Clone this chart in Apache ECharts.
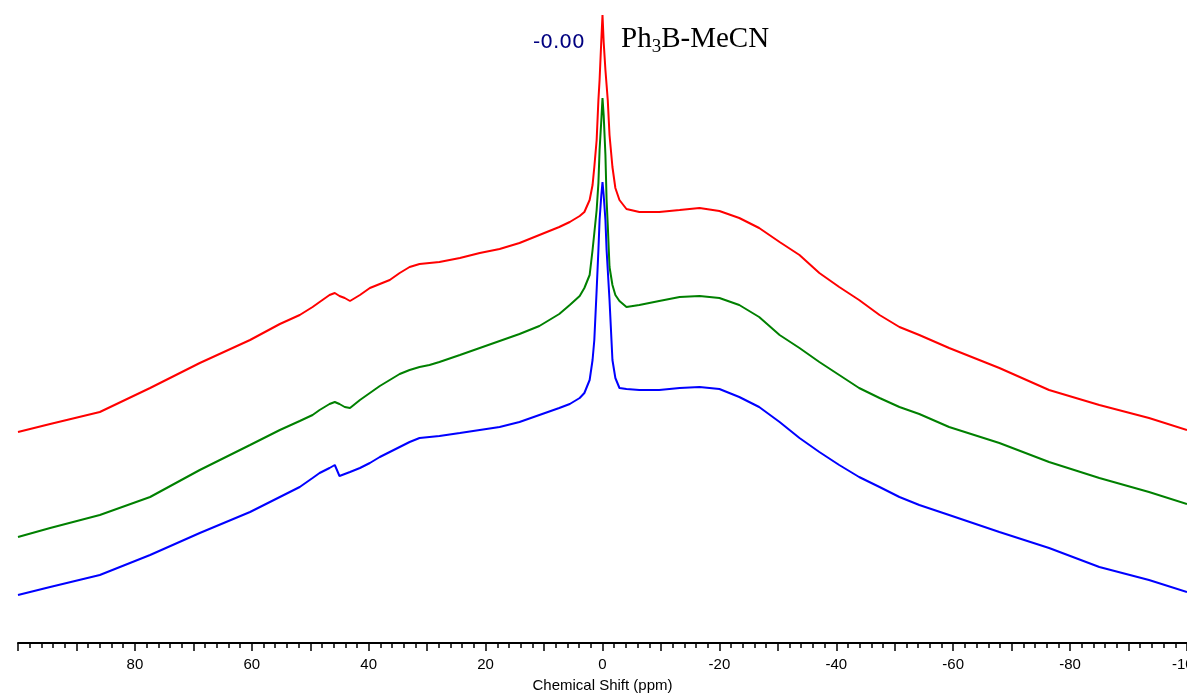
<!DOCTYPE html>
<html>
<head>
<meta charset="utf-8">
<script src="https://cdn.jsdelivr.net/npm/echarts@6/dist/echarts.min.js"></script>
<style>
  html, body { margin: 0; padding: 0; background: #fff; overflow: hidden; }
  #chart { width: 1187px; height: 695px; }
</style>
</head>
<body>
<div id="chart"></div>
<script>
// Chemical shift grid (ppm)
const ppm = [100, 94.5, 86, 77.4, 68.9, 60.3, 55.2, 51.8, 49.6, 48.4, 46.7, 45.8, 45.0, 44.1, 43.2, 41.5, 39.8, 38.1, 36.4, 34.7, 33.0, 31.3, 29.6, 27.9, 24.4, 21.0, 17.6, 14.2, 10.8, 7.4, 5.6, 3.9, 3.1, 2.2, 1.7, 1.4, 1.0, 0.7, 0.5, 0.2, 0, -0.2, -0.5, -0.7, -0.9, -1.2, -1.7, -2.2, -2.9, -4.1, -6.3, -9.7, -13.2, -16.6, -20, -23.4, -26.8, -30.3, -33.7, -37.1, -40.5, -43.9, -47.4, -50.8, -54.2, -59.3, -67.9, -76.4, -85, -93.5, -100];

// Intensities (arbitrary units, stacked offsets as drawn)
const redSpec = [211, 219, 231, 255, 280, 303, 319, 328, 336, 341, 348, 350, 347, 345, 342, 348, 355, 359, 363, 370, 376, 379, 380, 381, 385, 390, 394, 400, 408, 416, 421, 427, 431, 443, 458, 476, 503, 543, 563, 603, 628, 601, 573, 558, 543, 508, 476, 455, 443, 434, 431, 431, 433, 435, 432, 425, 415, 401, 388, 370, 356, 343, 328, 316, 308, 295, 275, 253, 238, 225, 213];

const greenSpec = [106, 115, 128, 146, 173, 198, 213, 222, 228, 233, 239, 241, 239, 236, 235, 243, 250, 257, 263, 269, 273, 276, 278, 281, 288, 295, 302, 309, 317, 329, 338, 347, 355, 368, 393, 410, 433, 460, 493, 523, 545, 528, 488, 443, 418, 376, 358, 348, 342, 336, 338, 342, 346, 347, 345, 338, 326, 308, 295, 281, 268, 255, 245, 236, 229, 216, 200, 181, 165, 151, 139];

const blueSpec = [48, 56, 68, 88, 110, 131, 146, 156, 165, 170, 175, 178, 167, 169, 171, 175, 180, 186, 191, 196, 201, 205, 206, 207, 210, 213, 216, 221, 228, 235, 239, 245, 250, 263, 283, 303, 353, 393, 423, 448, 461, 448, 423, 393, 373, 343, 283, 265, 255, 254, 253, 253, 255, 256, 254, 246, 236, 221, 205, 191, 178, 166, 156, 146, 138, 128, 111, 95, 76, 63, 51];

const peakLabel = '-0.00';
const compoundRich = '{a|Ph}{s|3}{a|B-MeCN}';

const chart = echarts.init(document.getElementById('chart'), null, { renderer: 'canvas' });

function mk(name, vals, color) {
  return {
    name: name,
    type: 'line',
    data: ppm.map((p, i) => [p, vals[i]]),
    showSymbol: false,
    symbol: 'none',
    smooth: false,
    lineStyle: { color: color, width: 2 },
    itemStyle: { color: color },
    animation: false,
    z: 3
  };
}

chart.setOption({
  backgroundColor: '#fff',
  animation: false,
  grid: { left: 18, right: 0, top: 13, bottom: 52, containLabel: false, outerBoundsMode: 'none' },
  xAxis: {
    type: 'value',
    inverse: true,
    min: -100,
    max: 100,
    interval: 10,
    axisLine: { show: true, lineStyle: { color: '#000', width: 2 } },
    axisTick: { show: true, length: 8, lineStyle: { color: '#000', width: 1.5 } },
    minorTick: { show: true, splitNumber: 5, length: 5, lineStyle: { color: '#000', width: 1.5 } },
    splitLine: { show: false },
    minorSplitLine: { show: false },
    axisLabel: {
      formatter: function (v) { return (v % 20 === 0 && v !== 100) ? String(v) : ''; },
      color: '#000', fontSize: 15, fontFamily: 'Liberation Sans, Arial, sans-serif', margin: 14
    },
    name: 'Chemical Shift (ppm)',
    nameLocation: 'middle',
    nameGap: 35,
    nameTextStyle: { color: '#000', fontSize: 15, fontFamily: 'Liberation Sans, Arial, sans-serif' }
  },
  yAxis: {
    type: 'value',
    min: 0,
    max: 630,
    show: false
  },
  series: [
    mk('Red', redSpec, '#ff0000'),
    mk('Green', greenSpec, '#008000'),
    mk('Blue', blueSpec, '#0000ff')
  ],
  graphic: [
    {
      type: 'text',
      left: 533,
      top: 33,
      style: {
        text: peakLabel,
        fill: '#000080',
        font: '20px "DejaVu Sans", Verdana, sans-serif'
      }
    },
    {
      type: 'text',
      left: 621,
      top: 20,
      style: {
        text: compoundRich,
        rich: {
          a: { fontFamily: '"Liberation Serif", "Times New Roman", serif', fontSize: 29, lineHeight: 36, color: '#000', verticalAlign: 'middle' },
          s: { fontFamily: '"Liberation Serif", "Times New Roman", serif', fontSize: 19, lineHeight: 18, padding: [18, 0, 0, 0], color: '#000', verticalAlign: 'bottom' }
        }
      }
    }
  ]
});
</script>
</body>
</html>
